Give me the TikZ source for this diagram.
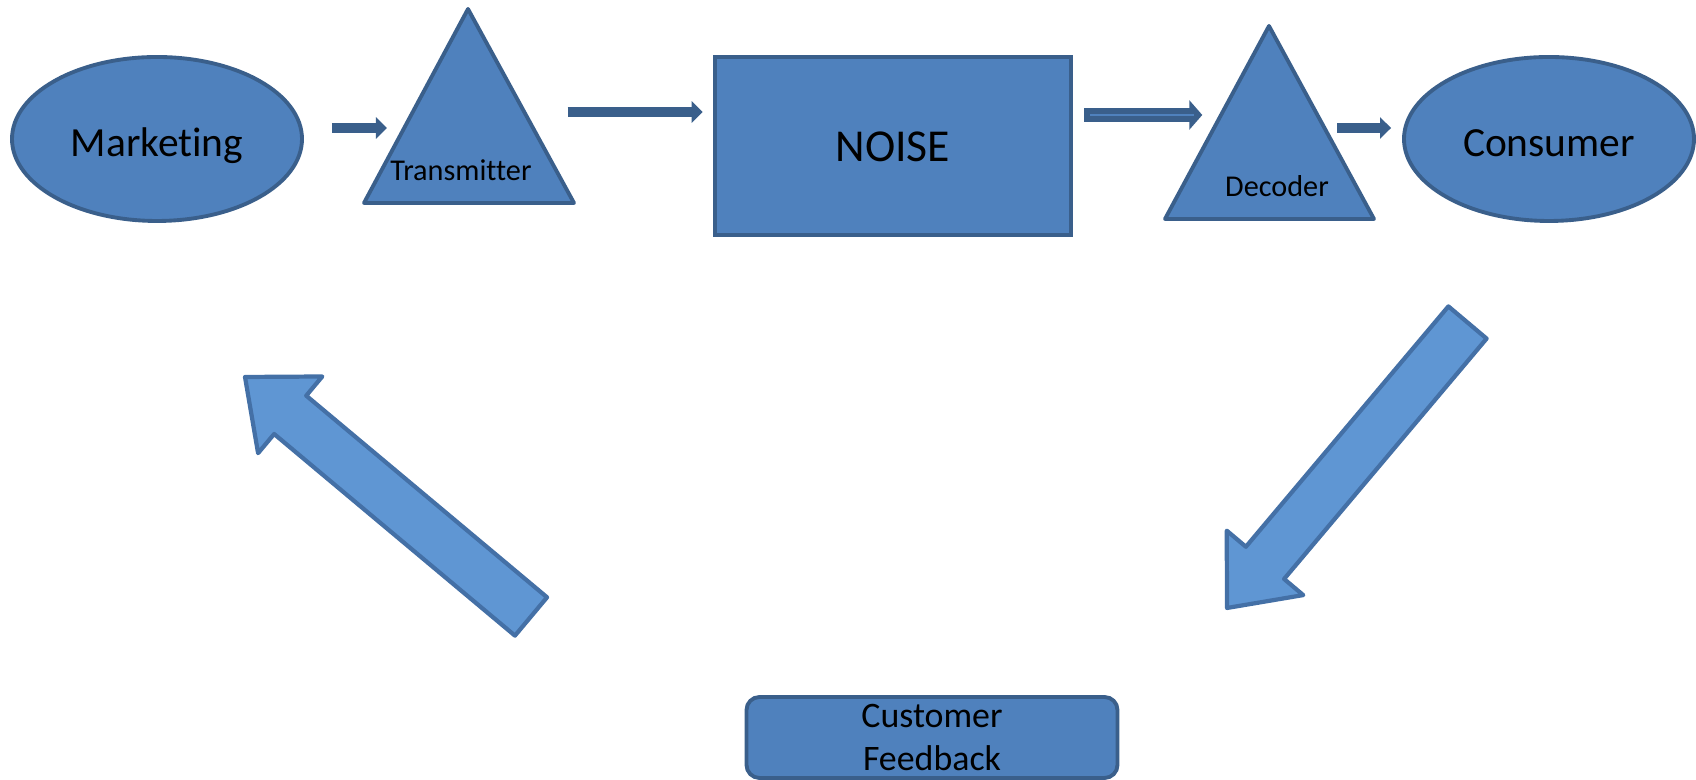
\documentclass[tikz,border=0pt]{standalone}
\usepackage{fontspec}
\setmainfont{Carlito}[Ligatures=NoCommon]
\usepackage{xcolor}
\definecolor{boxBlue}{HTML}{4F81BD}
\definecolor{boxEdge}{HTML}{3A5F8B}
\definecolor{loopBlue}{HTML}{5F96D3}
\definecolor{loopEdge}{HTML}{4470A6}
\usepackage{tikz}
\usetikzlibrary{arrows.meta,positioning,calc,shapes.geometric}

\begin{document}
\begin{tikzpicture}[
  blob/.style={ellipse, draw=boxEdge, line width=1.1pt, fill=boxBlue, minimum width=2.9cm, minimum height=1.64cm, inner sep=0pt, text height=10.2pt, text depth=0pt, font=\fontsize{11.8}{14}\selectfont},
  noiseBox/.style={rectangle, draw=boxEdge, line width=1.3pt, fill=boxBlue, minimum width=3.56cm, minimum height=1.78cm, inner sep=0pt, text height=9pt, text depth=0pt, font=\fontsize{13}{15}\selectfont},
  tri/.style={draw=boxEdge, line width=1.1pt, fill=boxBlue, line join=round},
  triLabel/.style={inner sep=0pt, font=\fontsize{8.6}{10}\selectfont},
  feedBox/.style={rectangle, rounded corners=0.13cm, draw=boxEdge, line width=1.1pt, fill=boxBlue, minimum width=3.71cm, minimum height=0.81cm, align=center, inner sep=0pt, font=\fontsize{10.2}{12.5}\selectfont},
  flow/.style={boxEdge, line width=0.1cm, -{Triangle[length=0.11cm, width=0.21cm]}},
  wideFlow/.style={boxEdge, line width=0.14cm, -{Triangle[length=0.13cm, width=0.29cm]}},
  loopArrow/.style={draw=loopEdge, line width=1.2pt, fill=loopBlue, line join=round},
]
\useasboundingbox (0,0) rectangle (16.96,7.80);

% top row
\node[blob] (mkt) at (1.57,6.41) {Marketing};
\node[blob] (cons) at (15.49,6.41) {Consumer};
\node[noiseBox] (noise) at (8.93,6.34) {NOISE};

% the two triangles (apex / right corner / left corner)
\foreach \name/\ax/\ay/\rx/\lx/\by/\lbl/\tx/\ty in {%
    txTri/4.68/7.71/5.74/3.64/5.77/Transmitter/4.61/6.10,
    decTri/12.69/7.54/13.74/11.65/5.61/Decoder/12.77/5.94} {
  \coordinate (\name Top) at (\ax,\ay);
  \draw[tri] (\name Top) -- (\rx,\by) -- (\lx,\by) -- cycle;
  \node[triLabel] (\name Label) at (\tx,\ty) {\lbl};
}

% small arrows along the row
\draw[flow] ([shift={(0.28,0.11)}]mkt.east) -- ++(0.55,0);
\draw[flow] ([shift={(-1.45,0.34)}]noise.west) -- ([shift={(-0.10,0.34)}]noise.west);
\draw[wideFlow] ([shift={(0.11,0.31)}]noise.east) -- ++(1.18,0);
\draw[boxBlue, line width=0.6pt] ([shift={(0.17,0.31)}]noise.east) -- ++(1.04,0);
\draw[flow] ([shift={(-0.65,0.11)}]cons.west) -- ([shift={(-0.11,0.11)}]cons.west);

% feedback loop
\node[feedBox] (feed) at (9.32,0.425) {Customer\\Feedback};

\foreach \t/\p in {{14.675,4.575}/{12.27,1.72}, {5.31,1.635}/{2.45,4.03}} {
  \coordinate (bigTail) at (\t);
  \coordinate (bigTip) at (\p);
  \coordinate (bigBase) at ($(bigTail)!0.842!(bigTip)$);
  \draw[loopArrow] ($(bigTail)!0.25cm!90:(bigTip)$) -- ($(bigBase)!0.25cm!90:(bigTip)$)
    -- ($(bigBase)!0.5cm!90:(bigTip)$) -- (bigTip) -- ($(bigBase)!0.5cm!-90:(bigTip)$)
    -- ($(bigBase)!0.25cm!-90:(bigTip)$) -- ($(bigTail)!0.25cm!-90:(bigTip)$) -- cycle;
}

\end{tikzpicture}
\end{document}
